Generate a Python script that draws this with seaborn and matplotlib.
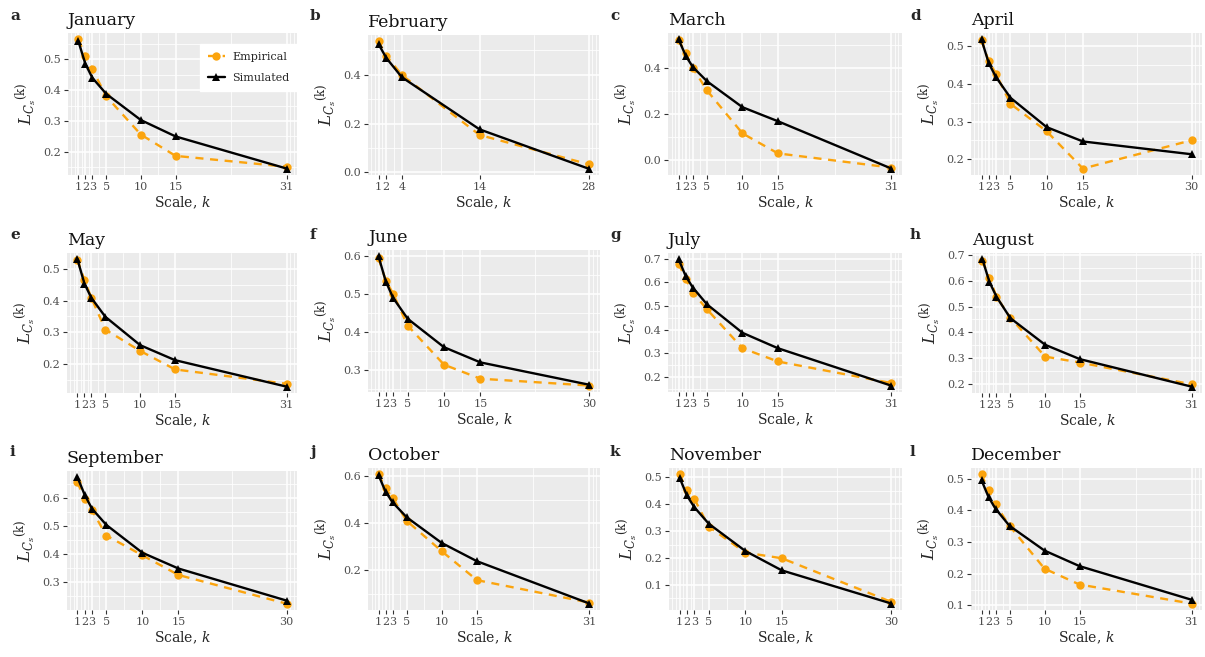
import numpy as np
import pandas as pd
import matplotlib
matplotlib.use("Agg")
import matplotlib.pyplot as plt
import seaborn as sns

# ---- data -----------------------------------------------------------------
months = ["January", "February", "March", "April", "May", "June",
          "July", "August", "September", "October", "November", "December"]
letters = list("abcdefghijkl")

scales = [
    [1, 2, 3, 5, 10, 15, 31],
    [1, 2, 4, 14, 28],
    [1, 2, 3, 5, 10, 15, 31],
    [1, 2, 3, 5, 10, 15, 30],
    [1, 2, 3, 5, 10, 15, 31],
    [1, 2, 3, 5, 10, 15, 30],
    [1, 2, 3, 5, 10, 15, 31],
    [1, 2, 3, 5, 10, 15, 31],
    [1, 2, 3, 5, 10, 15, 30],
    [1, 2, 3, 5, 10, 15, 31],
    [1, 2, 3, 5, 10, 15, 30],
    [1, 2, 3, 5, 10, 15, 31],
]

empirical = [
    [0.564, 0.511, 0.468, 0.380, 0.256, 0.187, 0.152],
    [0.537, 0.478, 0.399, 0.153, 0.033],
    [0.522, 0.463, 0.400, 0.302, 0.115, 0.028, -0.034],
    [0.516, 0.460, 0.427, 0.347, 0.274, 0.175, 0.250],
    [0.528, 0.464, 0.408, 0.309, 0.242, 0.184, 0.139],
    [0.594, 0.534, 0.500, 0.416, 0.313, 0.276, 0.258],
    [0.679, 0.614, 0.557, 0.486, 0.322, 0.266, 0.175],
    [0.679, 0.612, 0.539, 0.457, 0.305, 0.282, 0.197],
    [0.655, 0.594, 0.556, 0.465, 0.395, 0.325, 0.223],
    [0.606, 0.547, 0.507, 0.410, 0.281, 0.159, 0.064],
    [0.510, 0.451, 0.420, 0.316, 0.220, 0.199, 0.037],
    [0.513, 0.463, 0.419, 0.351, 0.216, 0.166, 0.106],
]

simulated = [
    [0.558, 0.485, 0.440, 0.388, 0.303, 0.250, 0.146],
    [0.526, 0.469, 0.390, 0.176, 0.015],
    [0.524, 0.453, 0.404, 0.342, 0.229, 0.168, -0.038],
    [0.518, 0.455, 0.418, 0.363, 0.285, 0.247, 0.213],
    [0.529, 0.453, 0.408, 0.349, 0.260, 0.213, 0.130],
    [0.598, 0.532, 0.489, 0.434, 0.359, 0.319, 0.260],
    [0.697, 0.626, 0.578, 0.507, 0.387, 0.322, 0.164],
    [0.684, 0.596, 0.539, 0.455, 0.351, 0.295, 0.188],
    [0.672, 0.610, 0.561, 0.503, 0.404, 0.348, 0.234],
    [0.603, 0.533, 0.488, 0.425, 0.316, 0.239, 0.060],
    [0.498, 0.432, 0.389, 0.327, 0.226, 0.154, 0.031],
    [0.495, 0.442, 0.405, 0.351, 0.273, 0.224, 0.118],
]

y_breaks = [
    [0.2, 0.3, 0.4, 0.5],
    [0.0, 0.2, 0.4],
    [0.0, 0.2, 0.4],
    [0.2, 0.3, 0.4, 0.5],
    [0.2, 0.3, 0.4, 0.5],
    [0.3, 0.4, 0.5, 0.6],
    [0.2, 0.3, 0.4, 0.5, 0.6, 0.7],
    [0.2, 0.3, 0.4, 0.5, 0.6, 0.7],
    [0.3, 0.4, 0.5, 0.6],
    [0.2, 0.4, 0.6],
    [0.1, 0.2, 0.3, 0.4, 0.5],
    [0.1, 0.2, 0.3, 0.4, 0.5],
]

series_names = ["Empirical", "Simulated"]

# ---- layout (pixel boxes: left, top, right, bottom) -------------------------
W, H = 1205, 657
panel_boxes = [
    (68, 33, 297, 175), (368, 35, 599, 175), (668, 33, 902, 175), (971, 33, 1202, 175),
    (67, 253, 297, 393), (368, 250, 600, 392), (668, 253, 902, 392), (972, 253, 1202, 393),
    (67, 471, 297, 610), (368, 468, 600, 610), (669, 468, 902, 610), (971, 468, 1202, 610),
]
col_origin = [0, 300, 600, 900]
row_letter_y = [16, 235, 452]

sns.set_theme(style="darkgrid", rc={
    "axes.facecolor": "#EBEBEB",
    "figure.facecolor": "white",
    "grid.color": "white",
    "axes.edgecolor": "none",
    "xtick.bottom": True,
    "ytick.left": True,
})
plt.rcParams["font.family"] = ["DejaVu Serif"]
plt.rcParams["mathtext.fontset"] = "dejavuserif"

ORANGE = "#FBA40E"
palette = {"Empirical": ORANGE, "Simulated": "black"}
markers = {"Empirical": "o", "Simulated": "^"}
dashes = {"Empirical": (3.4, 2.8), "Simulated": ""}


def minor_breaks(breaks, lo, hi):
    """Midpoints between breaks, extended one step beyond the data range."""
    b = list(breaks)
    step = b[1] - b[0]
    if lo < b[0]:
        b = [b[0] - step] + b
    if hi > b[-1]:
        b = b + [b[-1] + step]
    mids = [(a + c) / 2 for a, c in zip(b[:-1], b[1:])]
    return sorted(set(mids + b))


fig = plt.figure(figsize=(W / 100, H / 100), dpi=100)

for i in range(12):
    l, t, r, b = panel_boxes[i]
    ax = fig.add_axes([l / W, 1 - b / H, (r - l) / W, (b - t) / H])

    df = pd.DataFrame({
        "k": scales[i] * 2,
        "L": empirical[i] + simulated[i],
        "series": ["Empirical"] * len(scales[i]) + ["Simulated"] * len(scales[i]),
    })
    sns.lineplot(data=df, x="k", y="L", hue="series", style="series",
                 hue_order=series_names, style_order=series_names,
                 palette=palette, markers=markers, dashes=dashes,
                 markersize=6, markeredgewidth=0, linewidth=1.7,
                 errorbar=None, legend=(i == 0), ax=ax)

    ax.margins(x=0.05, y=0.05)
    ax.autoscale_view()
    xlo, xhi = ax.get_xlim()
    ylo, yhi = ax.get_ylim()

    xb = scales[i]
    yb = y_breaks[i]
    ax.set_xticks(xb)
    ax.set_xticklabels([str(v) for v in xb])
    ax.set_yticks(yb)
    ax.set_yticklabels([f"{v:.1f}" for v in yb])
    ax.set_xticks(minor_breaks(xb, xlo, xhi), minor=True)
    ax.set_yticks(minor_breaks(yb, ylo, yhi), minor=True)
    ax.set_xlim(xlo, xhi)
    ax.set_ylim(ylo, yhi)

    ax.grid(which="major", color="white", linewidth=1.1)
    ax.grid(which="minor", color="white", linewidth=0.55)
    ax.tick_params(which="major", length=3, width=0.8, color="#333333",
                   labelsize=8, labelcolor="#4D4D4D", pad=2)
    ax.tick_params(which="minor", length=0)
    for s in ax.spines.values():
        s.set_visible(False)

    ax.set_xlabel(r"Scale, $k$", fontsize=10, labelpad=2)
    ax.set_ylabel(r"${L_{C_s}}^{(\mathrm{k})}$", fontsize=12, labelpad=3)
    ax.set_title(months[i], loc="left", fontsize=12.5, pad=6, color="#111111")

    fig.text((col_origin[i % 4] + 10) / W, 1 - row_letter_y[i // 4] / H,
             letters[i], fontsize=11, fontweight="bold", va="center", ha="left")

    if i == 0:
        sns.move_legend(ax, "upper right", title=None, frameon=True,
                        bbox_to_anchor=(1.0, 1.0 - 11 / (b - t)),
                        fontsize=8, borderaxespad=0.0, borderpad=0.7,
                        labelspacing=1.0, handlelength=1.6, handletextpad=0.6,
                        fancybox=False, framealpha=1.0, edgecolor="white",
                        facecolor="white")

fig.savefig("out.png", dpi=100)
